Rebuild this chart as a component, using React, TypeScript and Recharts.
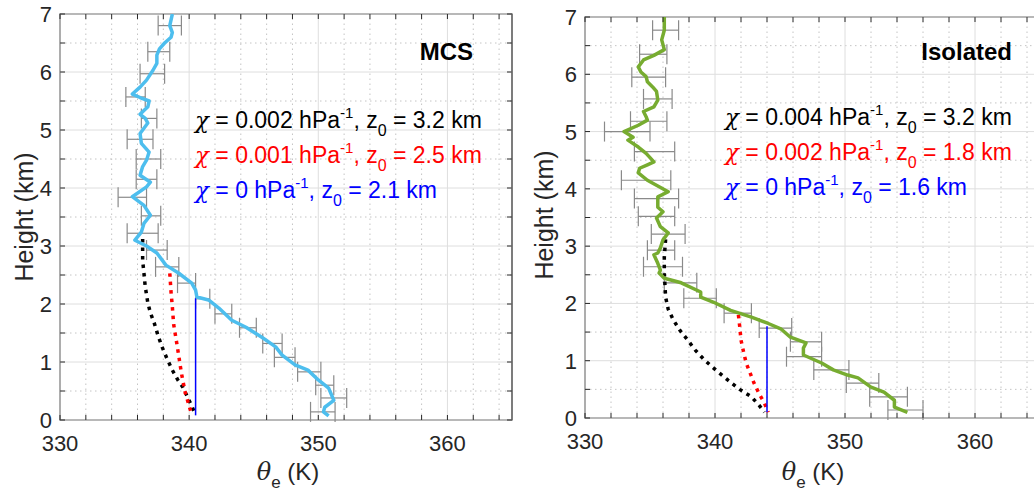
import { ScatterChart, Scatter, XAxis, YAxis, ReferenceLine, ReferenceArea, ErrorBar } from 'recharts';

const FONT = '"Liberation Sans", Arial, Helvetica, sans-serif';
const AXIS = '#262626';

const xTicks = [330, 332, 334, 336, 338, 340, 342, 344, 346, 348, 350, 352, 354, 356, 358, 360, 362, 364];
const xMajor = [330, 340, 350, 360];
const yTicks = [0, 0.5, 1, 1.5, 2, 2.5, 3, 3.5, 4, 4.5, 5, 5.5, 6, 6.5, 7];
const yMajor = [0, 1, 2, 3, 4, 5, 6, 7];

// MCS profile (theta_e K, height km), top to bottom
const mcsTheta = [338.7, 338.5, 338.7, 338.6, 338.1, 337.7, 337.5, 337.5, 337.2, 336.7, 336.2, 335.6, 336.2, 336.9, 336.8, 336.2, 336.6, 336.8, 336.5, 336.2, 336.3, 336.9, 336.7, 336.4, 336.2, 337.0, 336.7, 335.6, 336.5, 337.0, 336.5, 336.3, 335.8, 336.7, 337.5, 338.2, 339.2, 340.2, 340.5, 340.6, 341.5, 342.3, 343.3, 344.4, 345.6, 346.7, 347.2, 348.2, 349.2, 350.0, 350.8, 351.2, 350.5, 350.4, 350.8];
const mcsZ = [7.0, 6.8, 6.68, 6.6, 6.5, 6.4, 6.29, 6.15, 6.03, 5.86, 5.74, 5.62, 5.56, 5.5, 5.4, 5.27, 5.2, 5.12, 5.03, 4.94, 4.77, 4.62, 4.48, 4.37, 4.22, 4.1, 4.02, 3.85, 3.7, 3.53, 3.39, 3.24, 3.1, 3.0, 2.88, 2.67, 2.53, 2.36, 2.24, 2.12, 2.07, 1.93, 1.72, 1.6, 1.43, 1.26, 1.12, 0.95, 0.86, 0.69, 0.55, 0.34, 0.22, 0.14, 0.07];
const mcsBarZ = [6.8, 6.35, 5.97, 5.57, 5.2, 4.84, 4.5, 4.15, 3.84, 3.52, 3.22, 2.93, 2.64, 2.36, 2.09, 1.83, 1.59, 1.32, 1.08, 0.83, 0.6, 0.38, 0.14];
const mcsBarLo = [337.6, 336.8, 336.2, 335.1, 336.3, 335.2, 335.9, 335.9, 334.5, 336.3, 335.2, 336.7, 337.4, 339.1, 340.5, 342.0, 343.9, 345.7, 346.6, 348.4, 349.8, 350.2, 349.4];
const mcsBarHi = [339.4, 338.5, 338.1, 336.6, 337.5, 337.2, 337.8, 337.5, 336.7, 337.8, 337.6, 338.3, 339.2, 340.5, 341.6, 343.3, 345.2, 347.2, 348.2, 350.2, 351.2, 352.2, 351.3];
const mcsBlackTheta = [336.4, 336.4, 336.4, 336.5, 336.6, 336.8, 337.0, 337.3, 337.6, 337.9, 338.3, 338.7, 339.1, 339.5, 339.8, 340.1, 340.5];
const mcsBlackZ = [3.12, 2.98, 2.75, 2.53, 2.3, 2.02, 1.85, 1.67, 1.45, 1.26, 1.05, 0.86, 0.7, 0.57, 0.43, 0.29, 0.09];
const mcsRedTheta = [338.5, 338.6, 338.7, 338.8, 339.0, 339.2, 339.4, 339.7, 340.1, 340.2];
const mcsRedZ = [2.53, 2.2, 1.95, 1.65, 1.38, 1.1, 0.81, 0.47, 0.17, 0.09];
const mcsBlueTheta = [340.5, 340.5];
const mcsBlueZ = [0.08, 2.1];
const mcsChi = ['0.002', '0.001', '0'];
const mcsZ0 = ['3.2', '2.5', '2.1'];

// Isolated profile
const isoTheta = [336.1, 336.1, 335.9, 336.1, 335.3, 334.5, 334.1, 334.3, 334.7, 334.8, 335.2, 335.5, 335.6, 335.3, 334.5, 334.7, 334.8, 334.1, 333.0, 333.7, 333.3, 334.1, 334.7, 335.3, 334.8, 334.2, 334.1, 334.8, 336.4, 335.6, 335.6, 336.0, 335.5, 335.8, 336.4, 336.0, 335.8, 335.6, 335.3, 335.6, 335.8, 335.7, 336.1, 337.4, 338.9, 338.9, 339.9, 341.2, 342.8, 344.1, 345.1, 345.8, 347.0, 346.8, 346.8, 348.2, 349.1, 350.2, 351.0, 352.0, 353.0, 353.8, 353.8, 354.8];
const isoZ = [7.0, 6.77, 6.6, 6.43, 6.33, 6.25, 6.13, 6.04, 5.96, 5.87, 5.78, 5.7, 5.55, 5.43, 5.35, 5.26, 5.2, 5.11, 5.0, 4.9, 4.85, 4.73, 4.62, 4.47, 4.42, 4.36, 4.28, 4.15, 3.95, 3.86, 3.68, 3.6, 3.49, 3.34, 3.23, 3.11, 2.97, 2.88, 2.85, 2.7, 2.58, 2.53, 2.44, 2.36, 2.2, 2.11, 2.02, 1.88, 1.76, 1.65, 1.55, 1.41, 1.31, 1.22, 1.1, 0.96, 0.84, 0.75, 0.7, 0.54, 0.45, 0.31, 0.19, 0.1];
const isoBarZ = [6.77, 6.35, 5.95, 5.57, 5.18, 5.0, 4.65, 4.15, 3.83, 3.52, 3.21, 2.93, 2.64, 2.36, 2.09, 1.83, 1.57, 1.33, 1.07, 0.84, 0.61, 0.37, 0.14];
const isoBarLo = [335.2, 334.2, 333.6, 334.5, 333.5, 331.5, 333.8, 332.8, 333.8, 334.1, 335.1, 334.8, 334.5, 336.1, 337.6, 340.7, 343.4, 345.8, 345.5, 347.6, 350.1, 351.9, 353.3];
const isoBarHi = [337.2, 336.3, 336.2, 336.7, 336.3, 335.0, 336.9, 336.6, 337.2, 336.9, 337.7, 336.9, 337.5, 338.6, 340.1, 342.8, 345.9, 348.2, 348.2, 350.3, 352.6, 354.8, 356.0];
const isoBlackTheta = [336.2, 336.1, 336.1, 336.2, 336.4, 336.8, 337.3, 337.9, 338.5, 339.2, 340.1, 341.0, 341.9, 342.8, 343.4, 343.8];
const isoBlackZ = [3.12, 2.8, 2.53, 2.11, 1.9, 1.71, 1.53, 1.36, 1.18, 1.01, 0.83, 0.66, 0.5, 0.37, 0.22, 0.1];
const isoRedTheta = [341.8, 341.9, 342.0, 342.2, 342.4, 343.0, 343.4, 343.8, 344.1];
const isoRedZ = [1.8, 1.6, 1.36, 1.15, 0.96, 0.61, 0.42, 0.26, 0.1];
const isoBlueTheta = [344.0, 344.0];
const isoBlueZ = [0.1, 1.6];
const isoChi = ['0.004', '0.002', '0'];
const isoZ0 = ['3.2', '1.8', '1.6'];

const pts = (xs: number[], ys: number[]) => xs.map((x, i) => ({ x, y: ys[i] }));
const bars = (zs: number[], lo: number[], hi: number[]) =>
  zs.map((y, i) => ({ x: (lo[i] + hi[i]) / 2, y, err: (hi[i] - lo[i]) / 2 }));

const NoDot = () => null;

interface PanelProps {
  profile: { x: number; y: number }[];
  errs: { x: number; y: number; err: number }[];
  black: { x: number; y: number }[];
  red: { x: number; y: number }[];
  blue: { x: number; y: number }[];
  color: string;
  top: number;
  axisW: number;
  axisH: number;
  marginRight: number;
  width: number;
}

function Panel({ profile, errs, black, red, blue, color, top, axisW, axisH, marginRight, width }: PanelProps) {
  const bottom = 495 - axisH;
  const left = axisW;
  const right = width - marginRight;

  const XTick = (p: any) => {
    const v = p.payload.value;
    return (
      <g>
        <line x1={p.x} x2={p.x} y1={bottom} y2={bottom - 5} stroke={AXIS} />
        <line x1={p.x} x2={p.x} y1={top} y2={top + 5} stroke={AXIS} />
        {xMajor.includes(v) && (
          <text x={p.x} y={bottom + 31} textAnchor="middle" fontSize={22} fill={AXIS} fontFamily={FONT}>
            {v}
          </text>
        )}
      </g>
    );
  };

  const YTick = (p: any) => {
    const v = p.payload.value;
    return (
      <g>
        <line x1={left} x2={left + 5} y1={p.y} y2={p.y} stroke={AXIS} />
        <line x1={right} x2={right - 5} y1={p.y} y2={p.y} stroke={AXIS} />
        {yMajor.includes(v) && (
          <text x={left - 8} y={p.y + 8} textAnchor="end" fontSize={22} fill={AXIS} fontFamily={FONT}>
            {v}
          </text>
        )}
      </g>
    );
  };

  return (
    <ScatterChart width={width} height={495} margin={{ top, right: marginRight, bottom: 0, left: 0 }}>
      {xTicks.filter((v) => !xMajor.includes(v)).map((v) => (
        <ReferenceLine key={'xm' + v} x={v} stroke="#c4c4c4" strokeDasharray="1.5 3.5" />
      ))}
      {yTicks.filter((v) => !yMajor.includes(v)).map((v) => (
        <ReferenceLine key={'ym' + v} y={v} stroke="#c4c4c4" strokeDasharray="1.5 3.5" />
      ))}
      {xMajor.map((v) => (
        <ReferenceLine key={'xM' + v} x={v} stroke="#dedede" />
      ))}
      {yMajor.map((v) => (
        <ReferenceLine key={'yM' + v} y={v} stroke="#dedede" />
      ))}
      <XAxis
        type="number"
        dataKey="x"
        domain={[330, 365]}
        ticks={xTicks}
        interval={0}
        allowDataOverflow
        axisLine={false}
        tickLine={false}
        height={axisH}
        tick={(p: any) => <XTick {...p} />}
      />
      <YAxis
        type="number"
        dataKey="y"
        domain={[0, 7]}
        ticks={yTicks}
        interval={0}
        allowDataOverflow
        axisLine={false}
        tickLine={false}
        width={axisW}
        tick={(p: any) => <YTick {...p} />}
      />
      <ReferenceArea x1={330} x2={365} y1={0} y2={7} fill="none" stroke={AXIS} strokeWidth={1.2} ifOverflow="visible" />
      <Scatter data={errs} shape={NoDot} isAnimationActive={false}>
        <ErrorBar dataKey="err" direction="x" width={10} stroke="#8a8a8a" strokeWidth={1.2} isAnimationActive={false} />
      </Scatter>
      <Scatter data={black} shape={NoDot} isAnimationActive={false} line={{ stroke: '#000', strokeWidth: 3.5, strokeDasharray: '3.5 5' }} />
      <Scatter data={red} shape={NoDot} isAnimationActive={false} line={{ stroke: '#ff0000', strokeWidth: 3.5, strokeDasharray: '3.5 5' }} />
      <Scatter data={blue} shape={NoDot} isAnimationActive={false} line={{ stroke: '#0000ff', strokeWidth: 1.5 }} />
      <Scatter data={profile} shape={NoDot} isAnimationActive={false} line={{ stroke: color, strokeWidth: 3.5, strokeLinejoin: 'round' }} />
    </ScatterChart>
  );
}

function ChiText({ x, y, color, chi, z0 }: { x: number; y: number; color: string; chi: string; z0: string }) {
  return (
    <text x={x} y={y} fill={color} fontSize={23} fontFamily={FONT} style={{ whiteSpace: 'pre' }}>
      <tspan fontStyle="italic" fontFamily='"DejaVu Serif", serif'>χ</tspan>
      <tspan>{` = ${chi} hPa`}</tspan>
      <tspan dy={-10} fontSize={15}>-1</tspan>
      <tspan dy={10}>, z</tspan>
      <tspan dy={8} fontSize={16}>0</tspan>
      <tspan dy={-8}>{` = ${z0} km`}</tspan>
    </text>
  );
}

function XLabel({ x }: { x: number }) {
  return (
    <text x={x} y={480} textAnchor="middle" fontSize={24} fill={AXIS} fontFamily={FONT} style={{ whiteSpace: 'pre' }}>
      <tspan fontStyle="italic" fontFamily='"DejaVu Serif", serif'>θ</tspan>
      <tspan dy={8} fontSize={17}>e</tspan>
      <tspan dy={-8}> (K)</tspan>
    </text>
  );
}

export default function App() {
  const colors = ['#000000', '#ff0000', '#0000ff'];
  return (
    <div style={{ position: 'absolute', left: 0, top: 0, width: 1034, height: 495, overflow: 'hidden', background: '#fff' }}>
      <div style={{ position: 'absolute', left: 0, top: 0 }}>
        <Panel
          profile={pts(mcsTheta, mcsZ)}
          errs={bars(mcsBarZ, mcsBarLo, mcsBarHi)}
          black={pts(mcsBlackTheta, mcsBlackZ)}
          red={pts(mcsRedTheta, mcsRedZ)}
          blue={pts(mcsBlueTheta, mcsBlueZ)}
          color="#4dbeee"
          top={14}
          axisW={60}
          axisH={75}
          marginRight={8}
          width={520}
        />
      </div>
      <div style={{ position: 'absolute', left: 520, top: 0 }}>
        <Panel
          profile={pts(isoTheta, isoZ)}
          errs={bars(isoBarZ, isoBarLo, isoBarHi)}
          black={pts(isoBlackTheta, isoBlackZ)}
          red={pts(isoRedTheta, isoRedZ)}
          blue={pts(isoBlueTheta, isoBlueZ)}
          color="#77ac30"
          top={17}
          axisW={65}
          axisH={77}
          marginRight={0}
          width={520}
        />
      </div>
      <svg width={1034} height={495} style={{ position: 'absolute', left: 0, top: 0, pointerEvents: 'none' }}>
        <text transform="translate(33,217) rotate(-90)" textAnchor="middle" fontSize={25} fill={AXIS} fontFamily={FONT}>
          Height (km)
        </text>
        <text transform="translate(553,215) rotate(-90)" textAnchor="middle" fontSize={25} fill={AXIS} fontFamily={FONT}>
          Height (km)
        </text>
        <XLabel x={288} />
        <XLabel x={813} />
        <text x={473} y={60} textAnchor="end" fontSize={24} fontWeight="bold" fill="#000" fontFamily={FONT}>
          MCS
        </text>
        <text x={1012} y={60} textAnchor="end" fontSize={24} fontWeight="bold" fill="#000" fontFamily={FONT}>
          Isolated
        </text>
        {mcsChi.map((c, i) => (
          <ChiText key={'m' + i} x={195} y={128 + i * 35} color={colors[i]} chi={c} z0={mcsZ0[i]} />
        ))}
        {isoChi.map((c, i) => (
          <ChiText key={'s' + i} x={725} y={125 + i * 35} color={colors[i]} chi={c} z0={isoZ0[i]} />
        ))}
      </svg>
    </div>
  );
}
